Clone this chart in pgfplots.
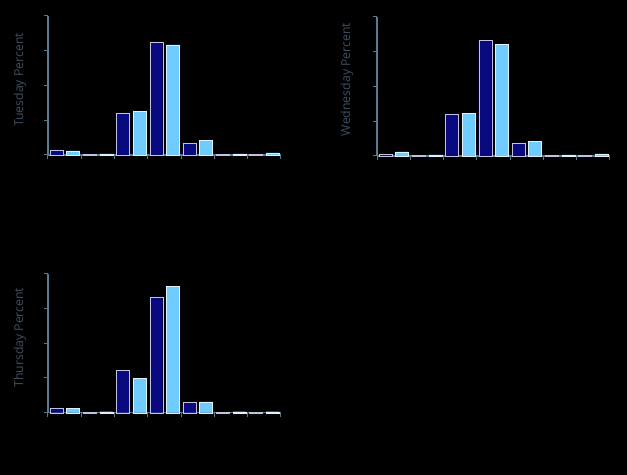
\documentclass[border=0pt]{standalone}
\usepackage{pgfplots}
\pgfplotsset{compat=1.18}
\usepackage{fontspec}
\setmainfont{Open Sans}

\definecolor{barDark}{HTML}{0A0A80}
\definecolor{barLight}{HTML}{70CCFF}
\definecolor{axisCol}{HTML}{587A92}
\definecolor{labelCol}{HTML}{3C5064}

\pgfplotsset{
  dayaxis/.style={
    scale only axis,
    width=233bp, height=139bp,
    anchor=south west,
    xmin=0.5, xmax=7.5, ymin=0, ymax=40,
    xtick={0.5,1.5,...,7.5}, ytick={0,10,20,30,40},
    xticklabels={}, yticklabels={},
    axis lines*=left,
    axis line style={axisCol, line width=1.1bp},
    tick style={axisCol, line width=1bp},
    tick align=outside,
    major tick length=4bp,
    clip=false,
    every axis y label/.style={at={(axis description cs:-0.12,0.54)}, rotate=90,
      anchor=center, font=\fontsize{12.3}{14}\selectfont, text=labelCol},
  },
  darkbar/.style={ybar, bar width=13bp, bar shift=-8.3bp, fill=barDark, draw=white!75!barDark, line width=0.3bp},
  lightbar/.style={ybar, bar width=13bp, bar shift=8.3bp, fill=barLight, draw=white!75!barLight, line width=0.3bp},
}

\begin{document}
\begin{tikzpicture}
\fill[black] (0,0) rectangle (627bp,475bp);

% Tuesday
\begin{axis}[dayaxis, at={(48bp,320bp)}, ylabel={Tuesday Percent}]
\addplot[darkbar] coordinates {(1,1.5) (2,0.1) (3,12.0) (4,32.6) (5,3.4) (6,0.1) (7,0.3)};
\addplot[lightbar] coordinates {(1,1.2) (2,0.3) (3,12.5) (4,31.7) (5,4.3) (6,0.3) (7,0.6)};
\end{axis}

% Wednesday
\begin{axis}[dayaxis, at={(377bp,319bp)}, ylabel={Wednesday Percent},
  every axis y label/.append style={at={(axis description cs:-0.129,0.55)}}]
\addplot[darkbar] coordinates {(1,0.6) (2,0.1) (3,12.0) (4,33.3) (5,3.8) (6,0.1) (7,0.3)};
\addplot[lightbar] coordinates {(1,1.2) (2,0.3) (3,12.3) (4,32.2) (5,4.2) (6,0.3) (7,0.6)};
\end{axis}

% Thursday
\begin{axis}[dayaxis, at={(48bp,62.3bp)}, ylabel={Thursday Percent}]
\addplot[darkbar] coordinates {(1,1.4) (2,0.1) (3,12.3) (4,33.3) (5,2.9) (6,0.1) (7,0.2)};
\addplot[lightbar] coordinates {(1,1.2) (2,0.3) (3,9.9) (4,36.3) (5,3.1) (6,0.3) (7,0.3)};
\end{axis}
\end{tikzpicture}
\end{document}
